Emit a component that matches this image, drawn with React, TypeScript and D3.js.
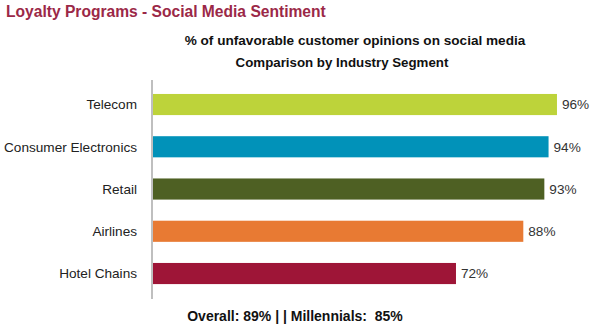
import React from "react";
import * as d3 from "d3";

const categories = ["Telecom", "Consumer Electronics", "Retail", "Airlines", "Hotel Chains"];
const values = [96, 94, 93, 88, 72];
const colors = ["#BDD33A", "#0192B9", "#4E6023", "#E87A33", "#9E1537"];

const W = 595;
const H = 327;

export default function App() {
  const x = d3.scaleLinear().domain([0, 100]).range([153, 573.8]);
  const y = d3
    .scaleBand<string>()
    .domain(categories)
    .range([83.4, 294.65])
    .paddingInner(0.5)
    .paddingOuter(0.25);
  const font = "'Liberation Sans', Arial, Helvetica, sans-serif";
  return (
    <svg width={W} height={H} style={{ position: "absolute", left: 0, top: 0, background: "#fff" }} fontFamily={font}>
      <text x={6} y={16.5} fontSize={15.6} fontWeight="bold" fill="#9B2847">
        Loyalty Programs - Social Media Sentiment
      </text>
      <text x={355} y={45} fontSize={13.6} fontWeight="bold" textAnchor="middle" fill="#111">
        % of unfavorable customer opinions on social media
      </text>
      <text x={342} y={67} fontSize={13.3} fontWeight="bold" textAnchor="middle" fill="#111">
        Comparison by Industry Segment
      </text>
      {categories.map((c, i) => (
        <g key={c}>
          <rect x={x(0)} y={y(c)} width={x(values[i]) - x(0)} height={y.bandwidth()} fill={colors[i]} />
          <text x={137} y={(y(c) as number) + y.bandwidth() / 2} dy="0.35em" fontSize={13.6} textAnchor="end" fill="#222">
            {c}
          </text>
          <text x={x(values[i]) + 5} y={(y(c) as number) + y.bandwidth() / 2} dy="0.35em" fontSize={13.6} fill="#333">
            {values[i]}%
          </text>
        </g>
      ))}
      <line x1={152} x2={152} y1={80} y2={299} stroke="#aaa" strokeWidth={1.5} />
      <text x={295} y={321} fontSize={14} fontWeight="bold" textAnchor="middle" fill="#111" style={{ whiteSpace: "pre" }}>
        {"Overall: 89% | | Millennials:  85%"}
      </text>
    </svg>
  );
}
